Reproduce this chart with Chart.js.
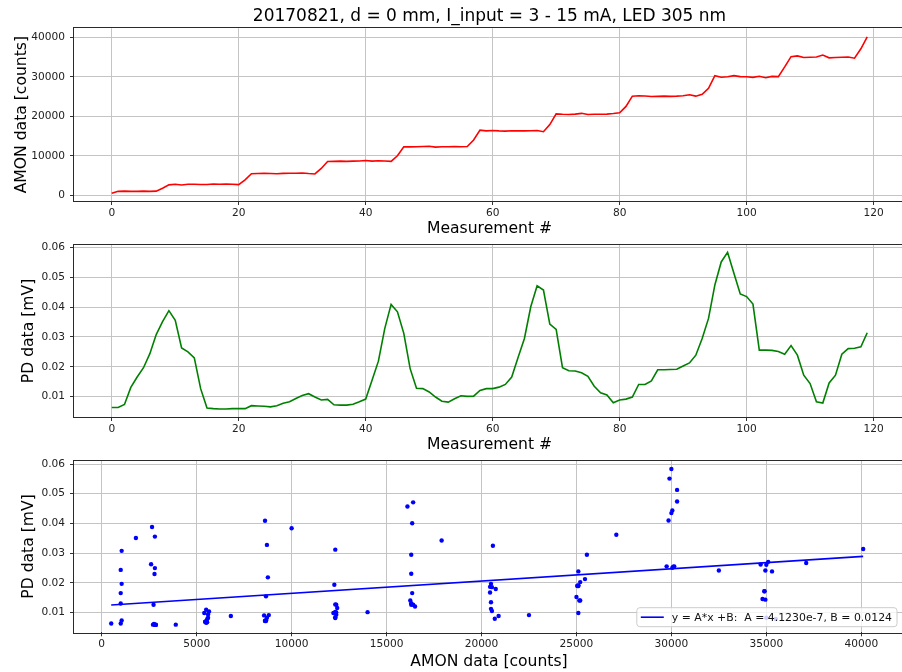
<!DOCTYPE html>
<html lang="en">
<head>
  <meta charset="UTF-8">
  <title>20170821 AMON / PD</title>
  <script src="https://cdn.jsdelivr.net/npm/chart.js"></script>
  <style>
    html, body {
      margin: 0;
      padding: 0;
      background: #fff;
      overflow: hidden;
    }
    body {
      width: 902px;
      height: 672px;
      position: relative;
    }
    canvas {
      position: absolute;
      left: 0;
    }
  </style>
</head>
<body>

<canvas id="amonChart" width="908" height="240" style="top:0px"></canvas>
<canvas id="pdChart" width="908" height="224" style="top:232px"></canvas>
<canvas id="fitChart" width="908" height="224" style="top:448px"></canvas>

<script>
  // Title and labels
  const plotTitle = '20170821, d = 0 mm, I_input = 3 - 15 mA, LED 305 nm';
  const xLabelTime = 'Measurement #';
  const amonLabel = 'AMON data [counts]';
  const pdLabel = 'PD data [mV]';

  // AMON reading for each measurement (index = measurement #)
  const amon = [
    500, 1000, 1050, 1000, 1000, 1050, 1000, 1050, 1800, 2650,
    2800, 2600, 2800, 2780, 2730, 2750, 2850, 2800, 2850, 2800,
    2700, 3900, 5450, 5500, 5550, 5500, 5450, 5550, 5600, 5600,
    5650, 5500, 5400, 6800, 8550, 8600, 8650, 8600, 8650, 8700,
    8800, 8650, 8750, 8700, 8600, 10000, 12300, 12250, 12300, 12350,
    12400, 12200, 12300, 12300, 12350, 12300, 12350, 14000, 16500, 16300,
    16400, 16300, 16250, 16350, 16300, 16300, 16350, 16400, 16100, 17900,
    20600, 20500, 20450, 20550, 20750, 20450, 20500, 20500, 20550, 20700,
    20900, 22500, 25100, 25200, 25150, 25000, 25050, 25100, 25050, 25100,
    25200, 25450, 25100, 25550, 27100, 30300, 29900, 30000, 30300, 30050,
    30000, 29850, 30150, 29750, 30100, 30050, 32500, 35100, 35300, 34900,
    34950, 35000, 35500, 34800, 34900, 34950, 35000, 34700, 37100, 40100
  ];

  // PD reading for each measurement
  const pd = [
    0.0064, 0.0064, 0.0074, 0.0131, 0.0166, 0.0197, 0.0244, 0.0308, 0.0351, 0.0388,
    0.0356, 0.0263, 0.0250, 0.0230, 0.0127, 0.0062, 0.0060, 0.0059, 0.0059, 0.0060,
    0.0060, 0.0060, 0.0070, 0.0069, 0.0068, 0.0066, 0.0070, 0.0078, 0.0083, 0.0094,
    0.0104, 0.0110, 0.0099, 0.0089, 0.0091, 0.0073, 0.0072, 0.0072, 0.0075, 0.0083,
    0.0092, 0.0155, 0.0219, 0.0328, 0.0409, 0.0384, 0.0312, 0.0194, 0.0128, 0.0127,
    0.0116, 0.0099, 0.0085, 0.0082, 0.0093, 0.0103, 0.0101, 0.0102, 0.0121, 0.0127,
    0.0127, 0.0132, 0.0141, 0.0166, 0.0231, 0.0295, 0.0401, 0.0471, 0.0457, 0.0343,
    0.0325, 0.0197, 0.0187, 0.0186, 0.0180, 0.0168, 0.0135, 0.0113, 0.0106, 0.0080,
    0.0089, 0.0092, 0.0099, 0.0141, 0.0141, 0.0153, 0.0190, 0.0190, 0.0191, 0.0192,
    0.0203, 0.0213, 0.0239, 0.0295, 0.0362, 0.0474, 0.0551, 0.0583, 0.0513, 0.0444,
    0.0435, 0.0410, 0.0256, 0.0256, 0.0255, 0.0251, 0.0242, 0.0271, 0.0239, 0.0172,
    0.0144, 0.0083, 0.0079, 0.0146, 0.0172, 0.0242, 0.0261, 0.0262, 0.0267, 0.0314
  ];

  // Linear fit y = A*x + B (from the legend)
  const fitA = 4.1230e-7;
  const fitB = 0.0124;

  // Tick steps
  const measTicks = [0, 20, 40, 60, 80, 100, 120];
  const amonTicks = [0, 10000, 20000, 30000, 40000];
  const pdTicks = [0.01, 0.02, 0.03, 0.04, 0.05, 0.06];
  const amonXTicks = [0, 5000, 10000, 15000, 20000, 25000, 30000, 35000, 40000];

  Chart.defaults.font.family = '"DejaVu Sans", sans-serif';
  Chart.defaults.color = '#222';

  const gridColor = '#c4c4c4';
  const tickFont = { size: 10.6 };
  const titleFont = { size: 15.6 };

  // draw the axes box on top like matplotlib spines
  const framePlugin = {
    id: 'frame',
    afterDraw(chart) {
      const { ctx, chartArea: a } = chart;
      ctx.save();
      ctx.strokeStyle = '#2a2a2a';
      ctx.lineWidth = 1;
      ctx.strokeRect(Math.round(a.left) - 0.5, Math.round(a.top) - 0.5,
        Math.round(a.right - a.left) + 1, Math.round(a.bottom - a.top) + 1);
      ctx.restore();
    }
  };

  // legend box in lower right corner of the fit plot
  const fitLegendPlugin = {
    id: 'fitLegend',
    afterDraw(chart) {
      const { ctx, chartArea: a } = chart;
      const text = 'y = A*x +B:  A = ' + fitA.toExponential(4) + ', B = ' + fitB.toFixed(4);
      ctx.save();
      ctx.font = '10.9px "DejaVu Sans"';
      const tw = ctx.measureText(text).width;
      const h = 19;
      const w = 4 + 23 + 8 + tw + 5;
      const x = a.right - 7 - w;
      const y = a.bottom - 5.6 - h;
      ctx.beginPath();
      ctx.roundRect(x, y, w, h, 3);
      ctx.fillStyle = 'rgba(255,255,255,0.8)';
      ctx.fill();
      ctx.strokeStyle = '#cccccc';
      ctx.lineWidth = 1;
      ctx.stroke();
      ctx.beginPath();
      ctx.moveTo(x + 4, y + h / 2);
      ctx.lineTo(x + 27, y + h / 2);
      ctx.strokeStyle = '#0000ff';
      ctx.lineWidth = 1.6;
      ctx.stroke();
      ctx.fillStyle = '#111';
      ctx.textBaseline = 'middle';
      ctx.fillText(text, x + 35, y + h / 2 + 0.5);
      ctx.restore();
    }
  };

  function yAxis(title, titlePad, min, max, ticks, fmt) {
    return {
      type: 'linear',
      min: min,
      max: max,
      afterBuildTicks: (scale) => { scale.ticks = ticks.map(v => ({ value: v })); },
      afterFit: (scale) => { scale.width = 74; },
      border: { display: false },
      grid: { color: gridColor, lineWidth: 1, tickLength: 4, tickColor: '#333' },
      ticks: { font: tickFont, padding: 5, callback: fmt },
      title: { display: true, text: title, font: titleFont, color: '#000', padding: { top: titlePad } }
    };
  }

  function xAxis(title, height, min, max, ticks, titleBottom) {
    return {
      type: 'linear',
      min: min,
      max: max,
      afterBuildTicks: (scale) => { scale.ticks = ticks.map(v => ({ value: v })); },
      afterFit: (scale) => { scale.height = height; },
      border: { display: false },
      grid: { color: gridColor, lineWidth: 1, tickLength: 4, tickColor: '#333' },
      ticks: { font: tickFont, padding: 2, maxRotation: 0, callback: v => String(v) },
      title: { display: true, text: title, font: titleFont, color: '#000', padding: { top: 0, bottom: titleBottom } }
    };
  }

  const common = {
    responsive: false,
    animation: false,
    devicePixelRatio: 1,
    plugins: {
      legend: { display: false },
      tooltip: { enabled: false }
    }
  };

  // 1) AMON vs measurement
  new Chart(document.getElementById('amonChart'), {
    type: 'line',
    data: {
      datasets: [{
        data: amon.map((v, i) => ({ x: i, y: v })),
        borderColor: '#ff0000',
        borderWidth: 1.6,
        pointRadius: 0,
        tension: 0
      }]
    },
    options: {
      ...common,
      layout: { padding: { left: 0, right: 3, top: 0, bottom: 0 } },
      plugins: {
        ...common.plugins,
        title: {
          display: true,
          text: plotTitle,
          fullSize: false,
          color: '#000',
          font: { size: 17, weight: 'normal' },
          padding: { top: 6.8, bottom: 1.1 }
        }
      },
      scales: {
        x: xAxis(xLabelTime, 39, -5.95, 124.95, measTicks, 1.6),
        y: yAxis(amonLabel, 12.3, -1443, 42278, amonTicks, v => String(v))
      }
    },
    plugins: [framePlugin]
  });

  // 2) PD vs measurement
  new Chart(document.getElementById('pdChart'), {
    type: 'line',
    data: {
      datasets: [{
        data: pd.map((v, i) => ({ x: i, y: v })),
        borderColor: '#008000',
        borderWidth: 1.6,
        pointRadius: 0,
        tension: 0
      }]
    },
    options: {
      ...common,
      layout: { padding: { left: 0, right: 3, top: 13, bottom: 0 } },
      scales: {
        x: xAxis(xLabelTime, 39, -5.95, 124.95, measTicks, 1.6),
        y: yAxis(pdLabel, 19.9, 0.00321, 0.06077, pdTicks, v => v.toFixed(2))
      }
    },
    plugins: [framePlugin]
  });

  // 3) PD vs AMON with linear fit
  const amonMin = Math.min(...amon);
  const amonMax = Math.max(...amon);

  new Chart(document.getElementById('fitChart'), {
    type: 'scatter',
    data: {
      datasets: [{
        data: amon.map((v, i) => ({ x: v, y: pd[i] })),
        backgroundColor: '#0000ff',
        borderColor: '#0000ff',
        borderWidth: 0,
        pointRadius: 2.2,
        showLine: false
      }, {
        data: [
          { x: amonMin, y: fitA * amonMin + fitB },
          { x: amonMax, y: fitA * amonMax + fitB }
        ],
        borderColor: '#0000ff',
        borderWidth: 1.6,
        pointRadius: 0,
        showLine: true
      }]
    },
    options: {
      ...common,
      layout: { padding: { left: 0, right: 3, top: 12.7, bottom: 0 } },
      scales: {
        x: xAxis(amonLabel, 39.7, -1460, 42250, amonXTicks, 0.6),
        y: yAxis(pdLabel, 19.9, 0.00342, 0.06111, pdTicks, v => v.toFixed(2))
      }
    },
    plugins: [framePlugin, fitLegendPlugin]
  });
</script>

</body>
</html>
